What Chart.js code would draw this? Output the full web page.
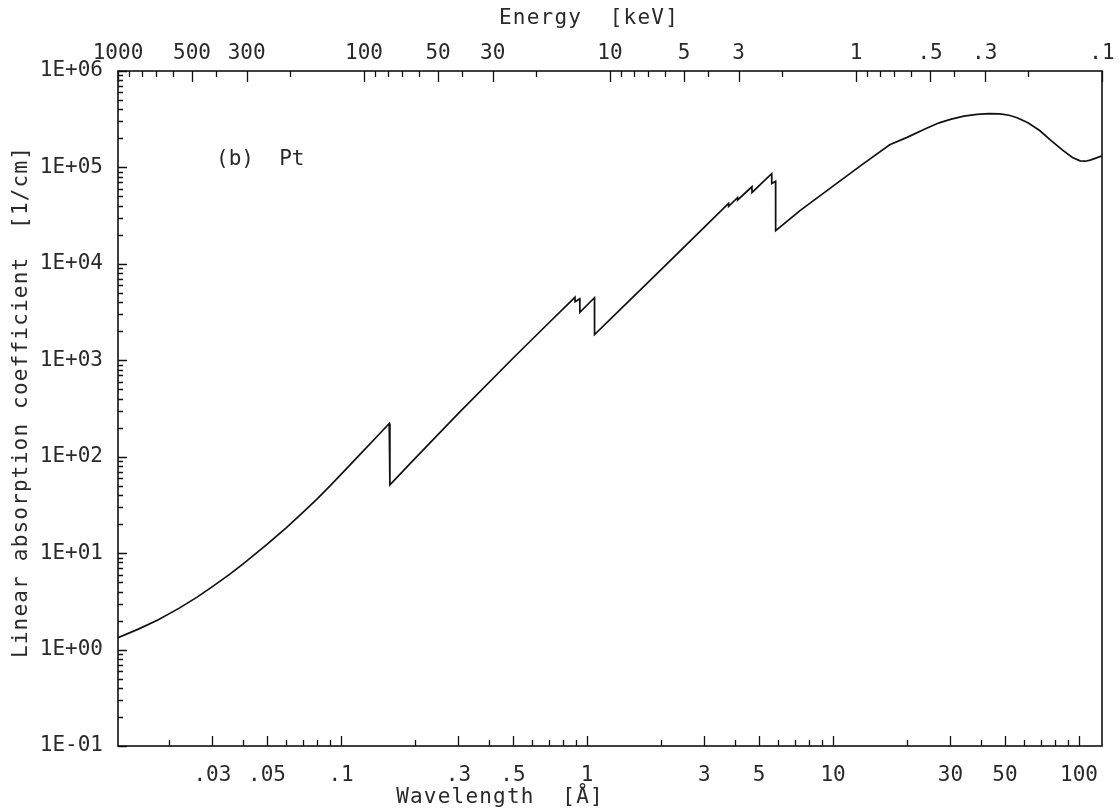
<!DOCTYPE html>
<html>
<head>
<meta charset="utf-8">
<script src="https://cdn.jsdelivr.net/npm/chart.js@4.4.0/dist/chart.umd.min.js"></script>
<style>
  html, body { margin: 0; background: #fff; }
  #wrap { width: 1119px; height: 812px; }
</style>
</head>
<body>
<div id="wrap"><canvas id="myChart"></canvas></div>
<script>
// wavelength in Angstrom, linear absorption coefficient in 1/cm (Pt)
const wavelength = [
  0.0124, 0.015, 0.018, 0.022, 0.026, 0.03, 0.035, 0.04, 0.05, 0.06, 0.07, 0.08, 0.09, 0.1,
  0.12, 0.14, 0.157, 0.158, 0.2, 0.3, 0.5, 0.7, 0.893, 0.894, 0.934, 0.935, 1.072, 1.073,
  1.5, 2, 3, 3.76, 3.765, 4.09, 4.095, 4.68, 4.685, 5.63, 5.635, 5.84, 5.845,
  7.34, 10, 13, 17, 20, 24, 27, 30, 34, 38.5, 43, 47.7, 52, 56, 62, 69.4, 77, 86, 94,
  101, 106, 111, 117, 123.9
];
const absorption = [
  1.33, 1.63, 2.03, 2.69, 3.5, 4.5, 5.95, 7.75, 12.3, 18.4, 26.4, 36.6, 49.6, 65.6,
  107, 162, 221, 51, 96, 281, 1050, 2450, 4500, 4050, 4350, 3150, 4450, 1850,
  4250, 8700, 24000, 42300, 39500, 48600, 46000, 63000, 55000, 86000, 68000, 72000, 22100,
  35700, 64000, 105000, 172000, 205000, 255000, 290000, 315000, 340000, 355000, 362000, 360000, 348000, 327000, 290000, 240000, 190000, 150000, 127000,
  117000, 116000, 119000, 125000, 132000
];

const waveTicks = [0.03, 0.05, 0.1, 0.3, 0.5, 1, 3, 5, 10, 30, 50, 100];
const energyTicks = [1000, 500, 300, 100, 50, 30, 10, 5, 3, 1, 0.5, 0.3, 0.1];
const decadeTicks = [1e-1, 1e0, 1e1, 1e2, 1e3, 1e4, 1e5, 1e6];

const HC = 12.398; // keV * Angstrom
const ink = '#111';
const textInk = '#2a2a2a';
const tickFont = { family: 'DejaVu Sans Mono', size: 21 };

const shortNum = (v) => v >= 1 ? String(v) : String(v).replace(/^0/, '');
const expLabel = (v) => {
  const e = Math.round(Math.log10(v));
  return '1E' + (e < 0 ? '-' : '+') + String(Math.abs(e)).padStart(2, '0');
};
const hasTick = (list, v) => list.some(t => Math.abs(t - v) / t < 1e-6);

// all 1..9 x 10^n values inside a range
const logSteps = (lo, hi) => {
  const out = [];
  for (let e = Math.floor(Math.log10(lo)); e <= Math.ceil(Math.log10(hi)); e++) {
    for (let m = 1; m < 10; m++) {
      const v = parseFloat((m * Math.pow(10, e)).toPrecision(6));
      if (v >= lo * 0.9999 && v <= hi * 1.0001) out.push(v);
    }
  }
  return out;
};

const plotterFrame = {
  id: 'plotterFrame',
  afterDraw(chart) {
    const { ctx, chartArea: a, scales } = chart;
    ctx.save();
    ctx.strokeStyle = ink;
    ctx.lineWidth = 1.6;
    ctx.strokeRect(a.left, a.top, a.right - a.left, a.bottom - a.top);

    ctx.lineWidth = 1.3;
    ctx.beginPath();
    // bottom axis, wavelength
    logSteps(scales.x.min, scales.x.max).forEach(v => {
      const px = Math.round(scales.x.getPixelForValue(v)) + 0.5;
      const len = hasTick(waveTicks, v) ? 10 : 6;
      ctx.moveTo(px, a.bottom); ctx.lineTo(px, a.bottom - len);
    });
    // top axis, energy
    logSteps(scales.xE.min, scales.xE.max).forEach(v => {
      const px = Math.round(scales.xE.getPixelForValue(v)) + 0.5;
      const len = hasTick(energyTicks, v) ? 11 : 6;
      ctx.moveTo(px, a.top); ctx.lineTo(px, a.top + len);
    });
    // left axis
    logSteps(scales.y.min, scales.y.max).forEach(v => {
      const py = Math.round(scales.y.getPixelForValue(v)) + 0.5;
      const len = hasTick(decadeTicks, v) ? 9 : 5;
      ctx.moveTo(a.left, py); ctx.lineTo(a.left + len, py);
    });
    ctx.stroke();

    // titles and panel label
    ctx.fillStyle = textInk;
    ctx.font = '21px "DejaVu Sans Mono"';
    ctx.textBaseline = 'middle';
    ctx.textAlign = 'center';
    ctx.letterSpacing = '1.2px';
    ctx.fillText('Energy  [keV]', 589, 19);
    ctx.fillText('Wavelength  [\u00C5]', 500, 798);
    ctx.save();
    ctx.translate(22, 402);
    ctx.rotate(-Math.PI / 2);
    ctx.fillText('Linear absorption coefficient  [1/cm]', 0, 0);
    ctx.restore();
    ctx.letterSpacing = '0px';
    ctx.textAlign = 'left';
    ctx.fillText('(b)  Pt', 216, 160);
    ctx.restore();
  }
};

const ctx = document.getElementById('myChart').getContext('2d');

const myChart = new Chart(ctx, {
  type: 'line',
  data: {
    datasets: [{
      label: 'Pt',
      data: wavelength.map((w, i) => ({ x: w, y: absorption[i] })),
      borderColor: ink,
      borderWidth: 1.7,
      pointRadius: 0,
      tension: 0,
      fill: false
    }]
  },
  options: {
    responsive: true,
    maintainAspectRatio: false,
    animation: false,
    layout: { padding: { left: 0, right: 17, top: 0, bottom: 0 } },
    plugins: {
      legend: { display: false },
      tooltip: { enabled: false }
    },
    scales: {
      x: {
        type: 'logarithmic',
        position: 'bottom',
        min: HC / 1000,
        max: HC / 0.1,
        grid: { display: false, drawTicks: false },
        border: { display: false },
        afterBuildTicks: (s) => { s.ticks = waveTicks.map(v => ({ value: v })); },
        afterFit: (s) => { s.height = 66; s.paddingLeft = 0; s.paddingRight = 0; },
        ticks: {
          autoSkip: false, maxRotation: 0, padding: 17,
          color: textInk, font: tickFont,
          callback: (v) => shortNum(v)
        }
      },
      xE: {
        type: 'logarithmic',
        position: 'top',
        reverse: true,
        min: 0.1,
        max: 1000,
        grid: { display: false, drawTicks: false },
        border: { display: false },
        afterBuildTicks: (s) => { s.ticks = energyTicks.map(v => ({ value: v })); },
        afterFit: (s) => { s.height = 71; s.paddingLeft = 0; s.paddingRight = 0; },
        ticks: {
          autoSkip: false, maxRotation: 0, padding: 5,
          color: textInk, font: tickFont,
          callback: (v) => shortNum(v)
        }
      },
      y: {
        type: 'logarithmic',
        position: 'left',
        min: 0.1,
        max: 1e6,
        grid: { display: false, drawTicks: false },
        border: { display: false },
        afterBuildTicks: (s) => { s.ticks = decadeTicks.map(v => ({ value: v })); },
        afterFit: (s) => { s.width = 118; s.paddingTop = 0; s.paddingBottom = 0; },
        ticks: {
          autoSkip: false, padding: 15,
          color: textInk, font: tickFont,
          callback: (v) => expLabel(v)
        }
      }
    }
  },
  plugins: [plotterFrame]
});
</script>
</body>
</html>
